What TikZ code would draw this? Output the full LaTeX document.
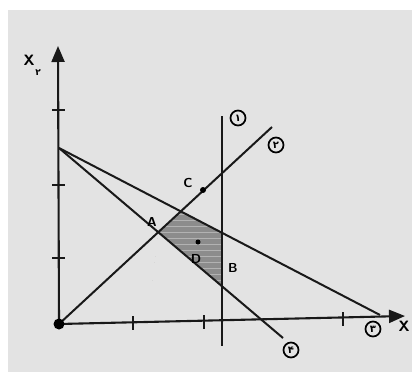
\documentclass[tikz,border=0pt]{standalone}
\usepackage{fontspec}
\newfontfamily\fa[Script=Arabic]{DejaVu Sans}
\usetikzlibrary{arrows.meta}
\begin{document}
\begin{tikzpicture}[x=1pt,y=-1pt,
  ln/.style={line width=2pt,black!90},
  ax/.style={line width=2.1pt,black!90,-{Triangle[length=16pt,width=13pt]}},
  tk/.style={line width=2pt,black!90},
  circ/.style={circle,draw,line width=1.7pt,inner sep=0.5pt,minimum size=15pt,font=\fa\bfseries\fontsize{10}{10}\selectfont},
  lbl/.style={font=\sffamily\bfseries\fontsize{13}{13}\selectfont,inner sep=0pt},
  pt/.style={circle,fill=black,inner sep=0pt,minimum size=6pt}]
\useasboundingbox (0,0) rectangle (412,372);
\fill[white] (0,0) rectangle (412,372);
\fill[black!11] (8,10) rectangle (412,372);
% key points
\coordinate (O) at (59,324);
\coordinate (Ytop) at (58,46);
\coordinate (Xend) at (405,316);
\coordinate (P) at (59,148);
\coordinate (Uend) at (380,315);
\coordinate (Lend) at (283,338);
\coordinate (Dend) at (272,127);
\coordinate (Vtop) at (222,116);
\coordinate (Vbot) at (222,346);
% region vertices
\coordinate (RA) at (158.5,231.9);
\coordinate (RC) at (181,211.2);
\coordinate (RB1) at (222,232.6);
\coordinate (RB2) at (222,286);
\fill[black!45] (RA) -- (RC) -- (RB1) -- (RB2) -- cycle;
\foreach \yy in {214,220,226,232,238,244,250,256,262,268,274,280}
  \draw[black!30,line width=0.6pt] (150,\yy) -- (222,\yy);
\fill[black!11] (150,200) -- (RC) -- (RB1) -- (222,200) -- cycle;
\fill[black!11] (150,200) -- (RC) -- (RA) -- (150,300) -- cycle;
\fill[black!11] (150,300) -- (RA) -- (RB2) -- (222,300) -- cycle;
% axes
\draw[ax] (O) -- (Ytop);
\draw[ax] (O) -- (Xend);
% ticks
\foreach \yy in {110,185,258} \draw[tk] (52,\yy) -- (65,\yy);
\draw[tk] (133,316) -- (133,330);
\draw[tk] (204,315) -- (204,329);
\draw[tk] (343,312) -- (343,326);
% lines
\draw[ln] (P) -- (Uend);
\draw[ln] (P) -- (Lend);
\draw[ln] (O) -- (Dend);
\draw[ln] (Vtop) -- (Vbot);
% points
\node[pt,minimum size=11pt] (o) at (O) {};
\node[pt] (c) at (203,190) {};
\node[pt,minimum size=5pt] (d) at (198,242) {};
% labels
\node[lbl] (lc) at (188,183) {C};
\node[lbl] (la) at (152,222) {A};
\node[lbl] (ld) at (196,259) {D};
\node[lbl] (lb) at (233,268) {B};
\node[lbl,font=\sffamily\bfseries\fontsize{15}{15}\selectfont] (lx) at (404,326) {X};
\node[lbl,font=\sffamily\bfseries\fontsize{15}{15}\selectfont] (ly) at (29,60) {X};
\node[lbl,font=\fa\bfseries\fontsize{9}{9}\selectfont] (ly2) at (38,73) {۲};
% circled line labels
\node[circ] (n1) at (238,118) {۱};
\node[circ] (n2) at (276,145) {۲};
\node[circ] (n3) at (373,329) {۳};
\node[circ] (n4) at (291,350) {۴};
\end{tikzpicture}
\end{document}
